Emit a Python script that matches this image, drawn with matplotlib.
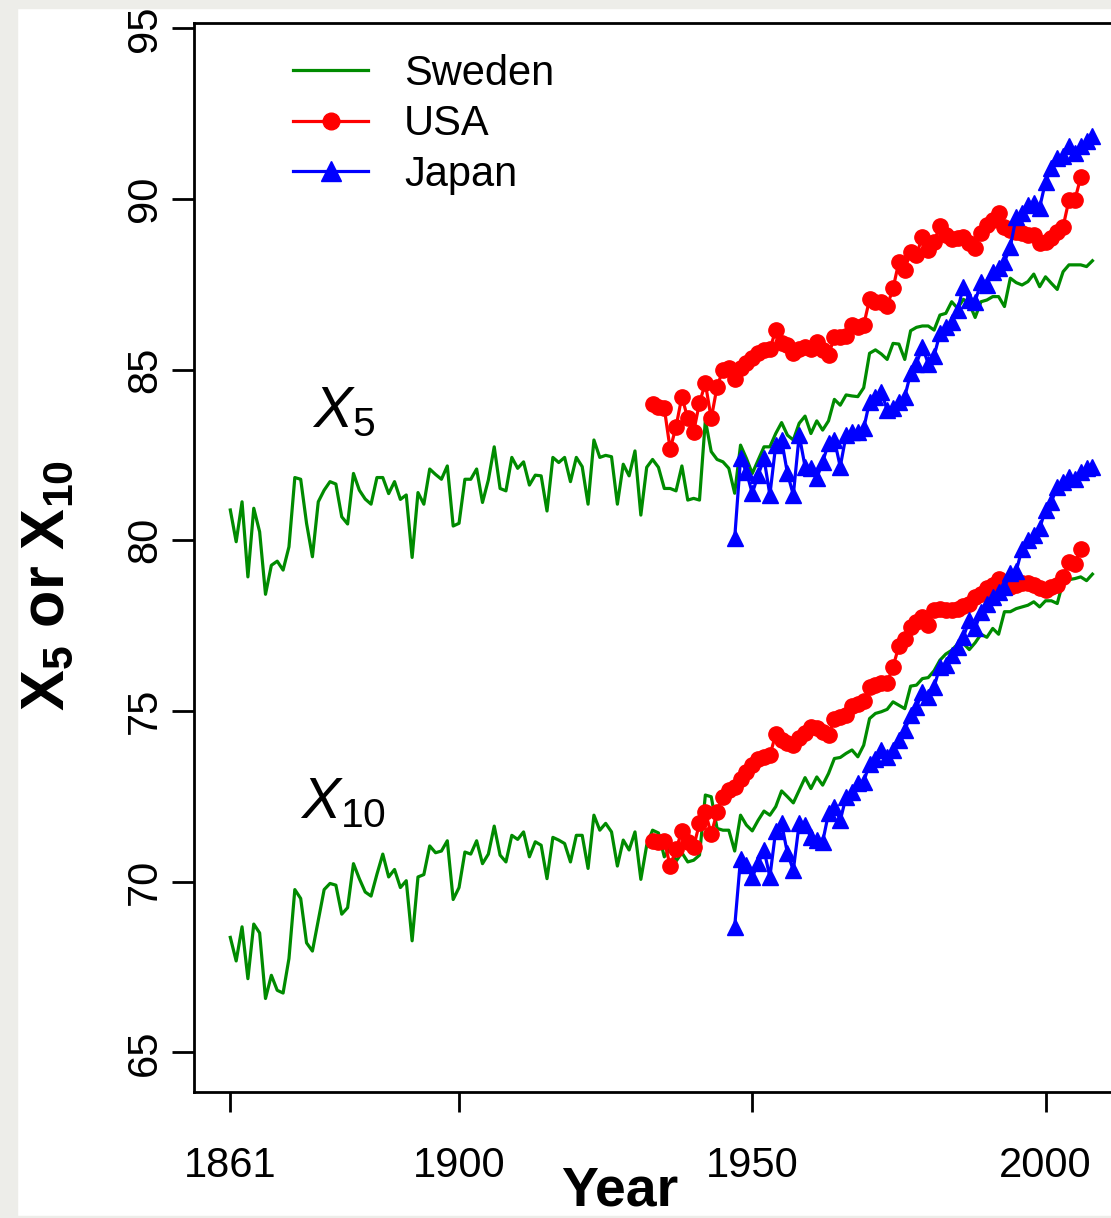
import numpy as np
import matplotlib
matplotlib.use("Agg")
import matplotlib.pyplot as plt
from matplotlib.lines import Line2D
from matplotlib.patches import Rectangle

plt.rcParams['font.family'] = ['Liberation Sans', 'DejaVu Sans']
plt.rcParams['mathtext.fontset'] = 'custom'
plt.rcParams['mathtext.rm'] = 'Liberation Sans'
plt.rcParams['mathtext.it'] = 'Liberation Sans:italic'
plt.rcParams['mathtext.bf'] = 'Liberation Sans:bold'

# Sweden, 1861-2008
sweden_x5 = [
    80.89, 79.96, 81.13, 78.93, 80.94, 80.25, 78.42, 79.27, 79.39, 79.13,
    79.81, 81.84, 81.79, 80.50, 79.52, 81.13, 81.47, 81.72, 81.65, 80.69,
    80.48, 81.96, 81.47, 81.21, 81.06, 81.84, 81.84, 81.37, 81.72, 81.20,
    81.33, 79.50, 81.40, 81.06, 82.09, 81.93, 81.79, 82.18, 80.42, 80.50,
    81.79, 81.79, 82.09, 81.11, 81.77, 82.74, 81.52, 81.45, 82.43, 82.11,
    82.30, 81.62, 81.91, 81.89, 80.86, 82.43, 82.28, 82.43, 81.72, 82.43,
    82.16, 81.06, 82.94, 82.43, 82.49, 82.45, 81.06, 82.23, 81.89, 82.62,
    80.74, 82.14, 82.37, 82.14, 81.52, 81.52, 81.45, 82.18, 81.18, 81.23,
    81.18, 83.52, 82.60, 82.37, 82.30, 82.11, 81.38, 82.79, 82.40, 81.96,
    82.35, 82.74, 82.74, 83.13, 83.45, 83.08, 82.94, 83.43, 83.64, 83.13,
    83.50, 83.23, 83.50, 84.13, 83.96, 84.26, 84.23, 84.21, 84.47, 85.48,
    85.58, 85.46, 85.30, 85.77, 85.75, 85.30, 86.14, 86.24, 86.28, 86.28,
    86.16, 86.60, 86.65, 86.99, 86.80, 87.06, 86.94, 86.53, 86.99, 87.04,
    87.14, 87.14, 86.85, 87.68, 87.55, 87.48, 87.58, 87.80, 87.43, 87.72,
    87.53, 87.35, 87.87, 88.07, 88.07, 88.07, 88.02, 88.19]
sweden_x10 = [
    68.37, 67.68, 68.68, 67.16, 68.76, 68.50, 66.58, 67.26, 66.82, 66.74,
    67.75, 69.77, 69.51, 68.21, 67.97, 68.87, 69.77, 69.95, 69.90, 69.05,
    69.24, 70.53, 70.09, 69.70, 69.58, 70.22, 70.81, 70.14, 70.36, 69.83,
    70.03, 68.27, 70.14, 70.21, 71.05, 70.85, 70.90, 71.20, 69.48, 69.83,
    70.87, 70.81, 71.20, 70.53, 70.81, 71.63, 70.78, 70.58, 71.36, 71.24,
    71.46, 70.73, 71.17, 71.07, 70.09, 71.30, 71.22, 71.12, 70.58, 71.36,
    71.36, 70.39, 71.95, 71.51, 71.71, 71.46, 70.46, 71.22, 70.93, 71.46,
    70.07, 71.07, 71.51, 71.43, 70.73, 71.00, 70.60, 70.85, 70.58, 70.63,
    70.78, 72.54, 72.49, 71.56, 71.51, 71.51, 70.90, 71.95, 71.66, 71.49,
    71.80, 72.07, 71.95, 72.20, 72.66, 72.49, 72.31, 72.68, 73.05, 72.73,
    73.07, 72.83, 73.17, 73.61, 73.64, 73.76, 73.86, 73.66, 74.00, 74.78,
    74.93, 74.98, 75.05, 75.27, 75.17, 75.07, 75.73, 75.76, 75.95, 75.98,
    76.18, 76.49, 76.67, 76.78, 76.96, 76.98, 76.80, 77.00, 77.25, 77.16,
    77.42, 77.25, 77.91, 77.91, 78.00, 78.05, 78.10, 78.20, 78.05, 78.23,
    78.23, 78.15, 78.79, 78.85, 78.88, 78.93, 78.82, 79.01]

# USA, 1933-2006
usa_x5 = [
    83.99, 83.92, 83.87, 82.67, 83.33, 84.21, 83.57, 83.18, 84.03, 84.60,
    83.57, 84.50, 85.00, 85.05, 84.74, 85.05, 85.20, 85.35, 85.50, 85.58,
    85.60, 86.16, 85.77, 85.72, 85.48, 85.60, 85.67, 85.62, 85.82, 85.58,
    85.43, 85.95, 85.97, 86.00, 86.31, 86.26, 86.31, 87.06, 86.99, 86.99,
    86.86, 87.38, 88.16, 87.92, 88.46, 88.36, 88.90, 88.50, 88.75, 89.21,
    88.94, 88.82, 88.85, 88.88, 88.70, 88.55, 89.00, 89.24, 89.38, 89.60,
    89.19, 89.09, 89.04, 88.99, 88.94, 88.94, 88.70, 88.75, 88.85, 89.04,
    89.19, 89.97, 89.97, 90.63]
usa_x10 = [
    71.20, 71.15, 71.20, 70.46, 70.95, 71.49, 71.17, 71.02, 71.71, 72.05,
    71.39, 72.05, 72.49, 72.68, 72.78, 73.00, 73.22, 73.42, 73.61, 73.66,
    73.70, 74.32, 74.15, 74.05, 74.00, 74.20, 74.35, 74.54, 74.50, 74.39,
    74.29, 74.78, 74.83, 74.88, 75.14, 75.22, 75.30, 75.70, 75.76, 75.81,
    75.83, 76.30, 76.90, 77.10, 77.45, 77.60, 77.76, 77.52, 77.95, 78.00,
    77.96, 77.96, 78.00, 78.08, 78.15, 78.35, 78.44, 78.60, 78.69, 78.88,
    78.64, 78.64, 78.69, 78.74, 78.74, 78.69, 78.59, 78.54, 78.64, 78.69,
    78.93, 79.37, 79.32, 79.76]

# Japan, 1947-2008
japan_x5 = [
    80.06, 82.40, 82.00, 81.38, 81.91, 82.40, 81.33, 82.79, 82.94, 81.96,
    81.33, 83.08, 82.16, 82.11, 81.82, 82.30, 82.84, 82.94, 82.16, 83.08,
    83.18, 83.18, 83.28, 84.06, 84.20, 84.35, 83.82, 83.87, 84.06, 84.21,
    84.89, 85.18, 85.67, 85.18, 85.40, 86.06, 86.26, 86.41, 86.75, 87.43,
    87.04, 86.99, 87.58, 87.48, 87.87, 87.97, 88.16, 88.60, 89.48, 89.58,
    89.82, 89.87, 89.75, 90.50, 90.90, 91.20, 91.25, 91.55, 91.35, 91.55,
    91.70, 91.85]
japan_x10 = [
    68.68, 70.68, 70.50, 70.14, 70.54, 70.93, 70.14, 71.50, 71.71, 70.83,
    70.34, 71.71, 71.66, 71.30, 71.22, 71.17, 72.00, 72.20, 71.80, 72.49,
    72.63, 72.88, 72.93, 73.46, 73.60, 73.86, 73.66, 73.86, 74.15, 74.44,
    74.88, 75.12, 75.56, 75.42, 75.71, 76.30, 76.35, 76.64, 76.88, 77.17,
    77.66, 77.42, 77.91, 78.15, 78.35, 78.50, 78.64, 79.03, 79.10, 79.75,
    80.00, 80.15, 80.35, 80.90, 81.13, 81.57, 81.72, 81.86, 81.81, 82.01,
    82.11, 82.16]

yr_sweden = np.arange(1861, 1861 + len(sweden_x5))
yr_usa = np.arange(1933, 1933 + len(usa_x5))
yr_japan = np.arange(1947, 1947 + len(japan_x5))

x_ticks = [1861, 1900, 1950, 2000]
y_ticks = [65, 70, 75, 80, 85, 90, 95]

W, H = 1111, 1218
fig = plt.figure(figsize=(W / 100, H / 100), dpi=100)
ax = fig.add_axes([194.3 / W, 1 - 1091.7 / H, (1127.5 - 194.3) / W, (1091.7 - 23.3) / H])

green = "#008B00"
lw = 2.3
ax.plot(yr_sweden, sweden_x5, color=green, lw=lw)
ax.plot(yr_sweden, sweden_x10, color=green, lw=lw)
ax.plot(yr_usa, usa_x5, color="red", lw=lw, marker="o", ms=11, mec="red")
ax.plot(yr_usa, usa_x10, color="red", lw=lw, marker="o", ms=11, mec="red")
ax.plot(yr_japan, japan_x5, color="blue", lw=lw, marker="^", ms=12, mec="blue")
ax.plot(yr_japan, japan_x10, color="blue", lw=lw, marker="^", ms=12, mec="blue")

ax.set_xlim(1854.86, 2013.98)
ax.set_ylim(63.85, 95.146)
ax.set_xticks(x_ticks)
ax.set_yticks(y_ticks)
for s in ax.spines.values():
    s.set_linewidth(2)
ax.tick_params(axis="x", length=14.4, width=2, pad=25, labelsize=30)
ax.tick_params(axis="y", length=16, width=2, pad=5, labelsize=30)
plt.setp(ax.get_yticklabels(), rotation=90, va="center")

# labels inside the plot
ax.text(1874.9, 83.32, r"$X_5$", fontsize=42, ha="left", va="baseline")
ax.text(1872.9, 71.86, r"$X_{10}$", fontsize=42, ha="left", va="baseline")

handles = [
    Line2D([], [], color=green, lw=lw),
    Line2D([], [], color="red", lw=lw, marker="o", ms=12, mec="red"),
    Line2D([], [], color="blue", lw=lw, marker="^", ms=15, mec="blue"),
]
ax.legend(handles, ["Sweden", "USA", "Japan"], loc="upper left",
          bbox_to_anchor=(293 / W, 1 - 54 / H), bbox_transform=fig.transFigure,
          frameon=False, fontsize=30, handlelength=1.8, handletextpad=0.86,
          labelspacing=0.25, borderpad=0, borderaxespad=0)

fig.text(620 / W, 1 - 1218 / H, "Year", fontsize=40, fontweight="bold",
         ha="center", va="bottom")
fig.text(48 / W, 1 - 585 / H, r"$\mathbf{X_5}$ or $\mathbf{X_{10}}$",
         fontsize=44, fontweight="bold", rotation=90, ha="center", va="center")

# grey screenshot border
grey = "#EDEDE9"
for r in [(0, 0, 17, H), (0, 0, W, 8), (0, 1216, W, 2)]:
    fig.patches.append(Rectangle((r[0] / W, 1 - (r[1] + r[3]) / H), r[2] / W, r[3] / H,
                                 transform=fig.transFigure, color=grey, zorder=10))

fig.savefig("out.png", dpi=100)
